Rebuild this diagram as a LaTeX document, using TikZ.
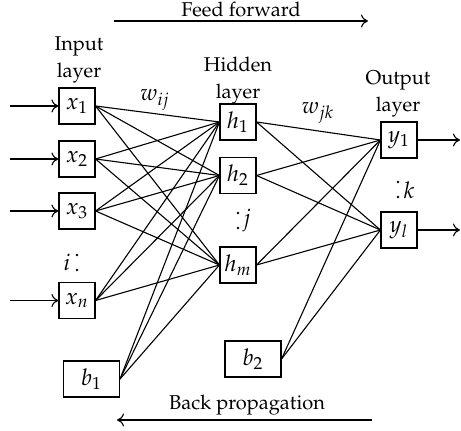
\documentclass[tikz,border=0pt]{standalone}
\usepackage[T1]{fontenc}
\usepackage{mathpazo}
\usetikzlibrary{arrows.meta}
\begin{document}
\begin{tikzpicture}[x=0.5pt,y=-0.5pt, line width=0.55pt,
  box/.style={draw, minimum width=18pt, minimum height=18pt, inner sep=0pt, font=\fontsize{11.5}{13}\selectfont},
  bbox/.style={draw, minimum width=28pt, minimum height=18pt, inner sep=0pt, font=\fontsize{11.5}{13}\selectfont},
  lbl/.style={align=center, inner sep=0pt, font=\fontsize{10}{13.5}\selectfont},
  txt/.style={inner sep=0pt, font=\fontsize{10}{12}\selectfont},
  mtxt/.style={inner sep=0pt, font=\fontsize{11.5}{13}\selectfont},
  dotpair/.style={fill=black},
  arr/.style={-{To[length=3.5pt,width=6.5pt]}}]
\useasboundingbox (0,0) rectangle (461,431);
% input layer
\node[box] (x1) at (77,106) {$x_1$};
\node[box] (x2) at (77,159) {$x_2$};
\node[box] (x3) at (77,211) {$x_3$};
\node[box] (xn) at (77,300.5) {$x_n$};
\node[bbox] (b1) at (91.5,379) {$b_1$};
% hidden layer
\node[box] (h1) at (238,122) {$h_1$};
\node[box] (h2) at (238,175.5) {$h_2$};
\node[box] (hm) at (238,265) {$h_m$};
\node[bbox] (b2) at (253,359) {$b_2$};
% output layer
\node[box] (y1) at (399,140) {$y_1$};
\node[box] (yl) at (399,230) {$y_l$};
% layer titles
\node[lbl] (tin) at (79,60) {Input\\layer};
\node[lbl] (thid) at (238,81) {Hidden\\layer};
\node[lbl] (tout) at (398,94) {Output\\layer};
% weights
\node[mtxt] (wij) at (155,100) {$w_{ij}$};
\node[mtxt] (wjk) at (318,113) {$w_{jk}$};
% index labels with vertical dots
\node[mtxt] (di) at (67,262) {$i$};
\fill[dotpair] (77,255) circle[radius=1.3] (77,270) circle[radius=1.3];
\node[mtxt] (dj) at (247,221) {$j$};
\fill[dotpair] (238,213) circle[radius=1.3] (238,228) circle[radius=1.3];
\node[mtxt] (dk) at (409,190) {$k$};
\fill[dotpair] (398,182) circle[radius=1.3] (398,197) circle[radius=1.3];
% inputs / outputs
\foreach \n/\y in {x1/106,x2/159,x3/211,xn/300.5}{
  \coordinate (in-\n) at (10,\y);
  \draw[arr] (in-\n) -- (\n);
}
\coordinate (out-y1) at (460,140);
\coordinate (out-yl) at (460,230);
\draw[arr] (y1) -- (out-y1);
\draw[arr] (yl) -- (out-yl);
% connections
\foreach \a in {x1,x2,x3,xn,b1}
  \foreach \b in {h1,h2,hm}
    \draw (\a.east) -- (\b.west);
\foreach \a in {h1,h2,hm,b2}
  \foreach \b in {y1,yl}
    \draw (\a.east) -- (\b.west);
% feed forward / back propagation
\node[txt] (ff) at (241,9) {Feed forward};
\coordinate (ffs) at (114,21);
\coordinate (ffe) at (368,21);
\draw[arr] (ffs) -- (ffe);
\node[txt] (bp) at (247,405) {Back propagation};
\coordinate (bps) at (372,420);
\coordinate (bpe) at (117,420);
\draw[arr] (bps) -- (bpe);
\end{tikzpicture}
\end{document}
